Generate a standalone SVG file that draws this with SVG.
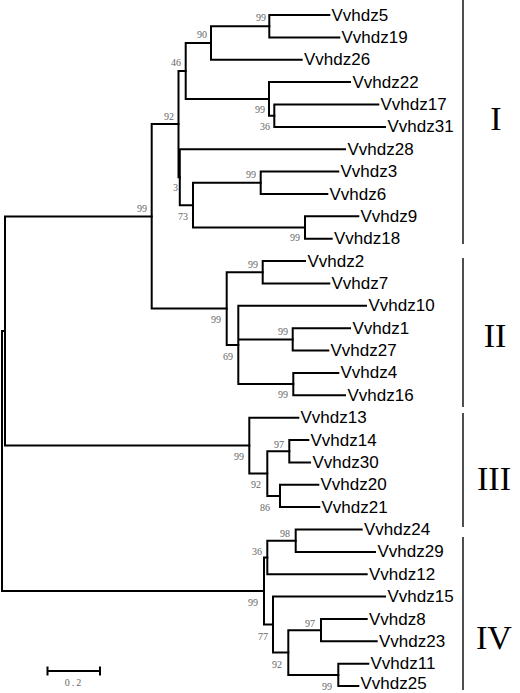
<svg xmlns="http://www.w3.org/2000/svg" width="520" height="693" viewBox="0 0 520 693">
<style>
.br{fill:none;stroke:#000;stroke-width:2;stroke-linejoin:miter;stroke-linecap:square}
.tip{font-family:"Liberation Sans",Arial,sans-serif;font-size:17px;fill:#000}
.bs{font-family:"Liberation Serif","Times New Roman",serif;font-size:10px;fill:#666;text-anchor:end}
.bar{stroke:#222;stroke-width:1.6;fill:none}
.cl{font-family:"Liberation Serif","Times New Roman",serif;font-size:34px;fill:#000;text-anchor:middle}
</style>
<rect width="520" height="693" fill="#fff"/>
<g id="connectors">
<path class="br" d="M329.3 15 H269.3 V37.4 H339.3"/>
<path class="br" d="M269.3 26.2 H211 V59.7 H301.7"/>
<path class="br" d="M378.3 104.5 H274.3 V126.9 H385"/>
<path class="br" d="M350 82.1 H269 V115.7 H274.3"/>
<path class="br" d="M211 42.95 H185.7 V98.9 H269"/>
<path class="br" d="M338.3 171.6 H260.7 V194 H327.3"/>
<path class="br" d="M358.3 216.3 H305 V238.7 H331.7"/>
<path class="br" d="M260.7 182.8 H193 V227.5 H305"/>
<path class="br" d="M345 149.2 H179.8 V205.2 H193"/>
<path class="br" d="M185.7 71 H178.5 V177.2 H179.8"/>
<path class="br" d="M178.5 124.1 H151.7 V308.6 H226.7"/>
<path class="br" d="M305 261.1 H262.7 V283.4 H329.3"/>
<path class="br" d="M350 328.2 H292.7 V350.6 H328.3"/>
<path class="br" d="M338.3 372.9 H293.3 V395.3 H345"/>
<path class="br" d="M366 305.8 H238.3 V384.1 H293.3 M238.3 339.4 H292.7"/>
<path class="br" d="M262.7 272.3 H226.7 V345 H238.3"/>
<path class="br" d="M308.3 440 H289.3 V462.4 H310"/>
<path class="br" d="M318.3 484.8 H280 V507.1 H319.3"/>
<path class="br" d="M289.3 451.2 H267.3 V496 H280"/>
<path class="br" d="M298.3 417.7 H249.3 V473.6 H267.3"/>
<path class="br" d="M151.7 216.4 H5 V445.6 H249.3"/>
<path class="br" d="M361.7 529.5 H295.7 V551.9 H375"/>
<path class="br" d="M295.7 540.7 H267.3 V574.2 H366.7"/>
<path class="br" d="M366.7 619 H321 V641.3 H376.7"/>
<path class="br" d="M368.3 663.7 H338.3 V686.1 H358.3"/>
<path class="br" d="M321 630.2 H288.3 V674.9 H338.3"/>
<path class="br" d="M385 596.6 H273 V652.5 H288.3"/>
<path class="br" d="M267.3 557.5 H264 V624.6 H273"/>
<path class="br" d="M5 331 H2 V591 H264"/>
</g>
<g id="tip-Vvhdz5"><text class="tip" x="331.5" y="20.5">Vvhdz5</text></g>
<g id="tip-Vvhdz19"><text class="tip" x="341.5" y="42.9">Vvhdz19</text></g>
<g id="tip-Vvhdz26"><text class="tip" x="304" y="65.2">Vvhdz26</text></g>
<g id="tip-Vvhdz22"><text class="tip" x="352.5" y="87.6">Vvhdz22</text></g>
<g id="tip-Vvhdz17"><text class="tip" x="380.5" y="110">Vvhdz17</text></g>
<g id="tip-Vvhdz31"><text class="tip" x="387.5" y="132.4">Vvhdz31</text></g>
<g id="tip-Vvhdz28"><text class="tip" x="347.5" y="154.7">Vvhdz28</text></g>
<g id="tip-Vvhdz3"><text class="tip" x="340.5" y="177.1">Vvhdz3</text></g>
<g id="tip-Vvhdz6"><text class="tip" x="329.5" y="199.5">Vvhdz6</text></g>
<g id="tip-Vvhdz9"><text class="tip" x="360.5" y="221.8">Vvhdz9</text></g>
<g id="tip-Vvhdz18"><text class="tip" x="334" y="244.2">Vvhdz18</text></g>
<g id="tip-Vvhdz2"><text class="tip" x="307.5" y="266.6">Vvhdz2</text></g>
<g id="tip-Vvhdz7"><text class="tip" x="331.5" y="288.9">Vvhdz7</text></g>
<g id="tip-Vvhdz10"><text class="tip" x="368.5" y="311.3">Vvhdz10</text></g>
<g id="tip-Vvhdz1"><text class="tip" x="352.5" y="333.7">Vvhdz1</text></g>
<g id="tip-Vvhdz27"><text class="tip" x="330.5" y="356.1">Vvhdz27</text></g>
<g id="tip-Vvhdz4"><text class="tip" x="340.5" y="378.4">Vvhdz4</text></g>
<g id="tip-Vvhdz16"><text class="tip" x="347.5" y="400.8">Vvhdz16</text></g>
<g id="tip-Vvhdz13"><text class="tip" x="300.5" y="423.2">Vvhdz13</text></g>
<g id="tip-Vvhdz14"><text class="tip" x="310.5" y="445.5">Vvhdz14</text></g>
<g id="tip-Vvhdz30"><text class="tip" x="312.5" y="467.9">Vvhdz30</text></g>
<g id="tip-Vvhdz20"><text class="tip" x="320.5" y="490.3">Vvhdz20</text></g>
<g id="tip-Vvhdz21"><text class="tip" x="321.5" y="512.6">Vvhdz21</text></g>
<g id="tip-Vvhdz24"><text class="tip" x="364" y="535">Vvhdz24</text></g>
<g id="tip-Vvhdz29"><text class="tip" x="377.5" y="557.4">Vvhdz29</text></g>
<g id="tip-Vvhdz12"><text class="tip" x="369" y="579.7">Vvhdz12</text></g>
<g id="tip-Vvhdz15"><text class="tip" x="387.5" y="602.1">Vvhdz15</text></g>
<g id="tip-Vvhdz8"><text class="tip" x="369" y="624.5">Vvhdz8</text></g>
<g id="tip-Vvhdz23"><text class="tip" x="379" y="646.8">Vvhdz23</text></g>
<g id="tip-Vvhdz11"><text class="tip" x="370.5" y="669.2">Vvhdz11</text></g>
<g id="tip-Vvhdz25"><text class="tip" x="360.5" y="689.3">Vvhdz25</text></g>
<g id="node-5-19"><text class="bs" x="266" y="21">99</text></g>
<g id="node-5-26"><text class="bs" x="207" y="38">90</text></g>
<g id="node-5-31"><text class="bs" x="181" y="66">46</text></g>
<g id="node-22-31"><text class="bs" x="265" y="113">99</text></g>
<g id="node-17-31"><text class="bs" x="270" y="130">36</text></g>
<g id="node-I"><text class="bs" x="174" y="120">92</text></g>
<g id="node-3-6"><text class="bs" x="256" y="178">99</text></g>
<g id="node-28-18"><text class="bs" x="178" y="191">3</text></g>
<g id="node-3-18"><text class="bs" x="188" y="220">73</text></g>
<g id="node-9-18"><text class="bs" x="300" y="241">99</text></g>
<g id="node-I-II"><text class="bs" x="147" y="212">99</text></g>
<g id="node-2-7"><text class="bs" x="258" y="268">99</text></g>
<g id="node-II"><text class="bs" x="221" y="323">99</text></g>
<g id="node-1-27"><text class="bs" x="288" y="335">99</text></g>
<g id="node-10-16"><text class="bs" x="233" y="360">69</text></g>
<g id="node-4-16"><text class="bs" x="288" y="398">99</text></g>
<g id="node-III"><text class="bs" x="244" y="460">99</text></g>
<g id="node-14-30"><text class="bs" x="284" y="448">97</text></g>
<g id="node-14-21"><text class="bs" x="261" y="488">92</text></g>
<g id="node-20-21"><text class="bs" x="270" y="511">86</text></g>
<g id="node-24-29"><text class="bs" x="290" y="537">98</text></g>
<g id="node-24-12"><text class="bs" x="262" y="555">36</text></g>
<g id="node-IV"><text class="bs" x="258" y="606">99</text></g>
<g id="node-15-25"><text class="bs" x="268" y="640">77</text></g>
<g id="node-8-23"><text class="bs" x="315" y="627">97</text></g>
<g id="node-8-25"><text class="bs" x="282" y="668">92</text></g>
<g id="node-11-25"><text class="bs" x="332" y="690">99</text></g>
<g id="clades">
<line class="bar" x1="463" y1="0" x2="463" y2="244"/>
<line class="bar" x1="463" y1="258" x2="463" y2="407"/>
<line class="bar" x1="463" y1="413" x2="463" y2="527"/>
<line class="bar" x1="463" y1="537" x2="463" y2="690"/>
<text class="cl" x="496" y="130">I</text>
<text class="cl" x="495" y="347">II</text>
<text class="cl" x="494" y="490">III</text>
<text class="cl" x="494" y="649">IV</text>
</g>
<g id="scale">
<path class="br" d="M47.5 671 H100 M47.5 666.5 V675.5 M100 666.5 V675.5" style="stroke-linecap:butt"/>
<text x="74" y="686" style="font-family:'Liberation Serif',serif;font-size:10px;fill:#666;text-anchor:middle;letter-spacing:2px">0.2</text>
</g>
</svg>
